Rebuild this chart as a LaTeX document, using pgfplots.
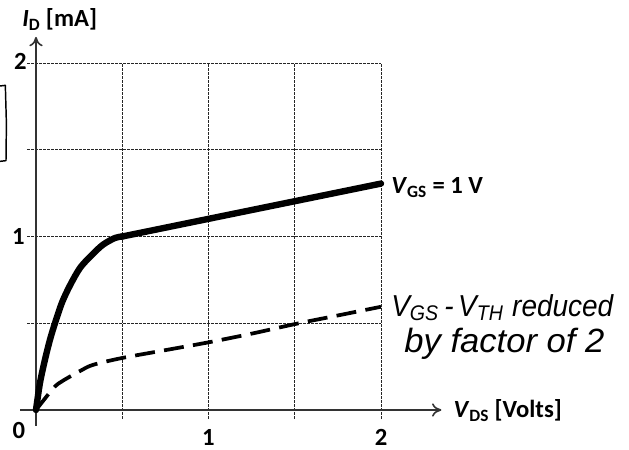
\documentclass[border=0pt]{standalone}
\usepackage{pgfplots}
\pgfplotsset{compat=1.18}
\usepackage{fontspec}
\setmainfont{Carlito}
\newfontfamily\hand{Liberation Sans}
\usetikzlibrary{arrows.meta}
\begin{document}
\begin{tikzpicture}
\path[use as bounding box] (0,0) rectangle (471.75pt,337.5pt);
\fill[white] (0,0) rectangle (471.75pt,337.5pt);
% stray bracket mark from the scan
\draw[line width=1.1pt, line join=round] (0pt,273pt) -- (4pt,273.5pt) -- (4.8pt,245pt) -- (4.5pt,217pt) -- (0pt,216.5pt);
\begin{axis}[
  at={(27pt,30pt)}, anchor=south west,
  scale only axis, width=258.75pt, height=260.25pt,
  xmin=0, xmax=2, ymin=0, ymax=2,
  axis line style={draw=none},
  clip=false,
  xtick=\empty, ytick=\empty,
  minor xtick={0.25,0.75,1.25,1.75},
  minor ytick={0.25,0.75,1.25,1.75},
  tick align=center,
  minor tick length=12pt,
  minor tick style={black, line width=1pt},
]
% grid
\foreach \g in {0.5,1,1.5,2}{
  \edef\temp{\noexpand\draw[black!85, line width=0.7pt, dash pattern=on 2pt off 1pt] (axis cs:\g,-0.05) -- (axis cs:\g,2);
  \noexpand\draw[black!85, line width=0.7pt, dash pattern=on 2pt off 1pt] (axis cs:-0.05,\g) -- (axis cs:2,\g);}
  \temp
}
% axes
\draw[line width=1.2pt, black!80, -{To[length=7pt,width=10pt]}] (axis cs:-0.09,0) -- (axis cs:2.35,0);
\draw[line width=1.2pt, black!80, -{To[length=7pt,width=10pt]}] (axis cs:0,-0.09) -- (axis cs:0,2.15);
% tick labels
\begin{scope}[font=\bfseries\fontsize{18.5}{21}\selectfont, inner sep=0pt]
\node[anchor=north] at (axis cs:1,0) [yshift=-14.5pt] {1};
\node[anchor=north] at (axis cs:2,0) [yshift=-14.5pt] {2};
\node[anchor=east] at (axis cs:0,1) [xshift=-8.25pt] {1};
\node[anchor=east] at (axis cs:0,2) [xshift=-6.75pt, yshift=1.5pt] {2};
\node at (axis cs:0,0) [xshift=-12.75pt, yshift=-15pt] {0};
% axis titles
\node[anchor=base west] at (axis cs:-0.081,2.208) {\textit{I}\textsubscript{D} [mA]};
\node[anchor=base west] at (axis cs:2.419,-0.046) {\textit{V}\textsubscript{DS} [Volts]};
\node[anchor=base west] at (axis cs:2.058,1.247) {\textit{V}\textsubscript{GS} = 1 V};
\end{scope}
% curves
\addplot[black, line width=4.8pt, smooth, line cap=round] coordinates {
 (0,0) (0.023,0.156) (0.052,0.29) (0.081,0.405) (0.11,0.50) (0.151,0.62)
 (0.198,0.72) (0.256,0.82) (0.326,0.896) (0.39,0.954) (0.459,0.992) (0.5,1.0)};
\addplot[black, line width=4.8pt, line cap=round] coordinates {(0.5,1.0) (2,1.305)};
\addplot[black, line width=2.8pt, smooth, dash pattern=on 15pt off 7pt] coordinates {
 (0,0) (0.1,0.125) (0.15,0.165) (0.256,0.225) (0.33,0.26) (0.5,0.30) (0.75,0.345) (1,0.39)
 (1.25,0.44) (1.5,0.495) (1.75,0.545) (2,0.595)};
% handwritten note
\node[anchor=base west, inner sep=0pt] at (axis cs:2.058,0.54)
  {\raisebox{0pt}[\height][0pt]{\resizebox*{166.5pt}{20pt}{\hand\itshape V\textsubscript{GS}\,{-}\,V\textsubscript{TH} reduced}}};
\node[anchor=base west, inner sep=0pt] at (axis cs:2.134,0.334)
  {\resizebox*{150pt}{23.5pt}{\hand\itshape by factor of 2}};
\end{axis}
\end{tikzpicture}
\end{document}
